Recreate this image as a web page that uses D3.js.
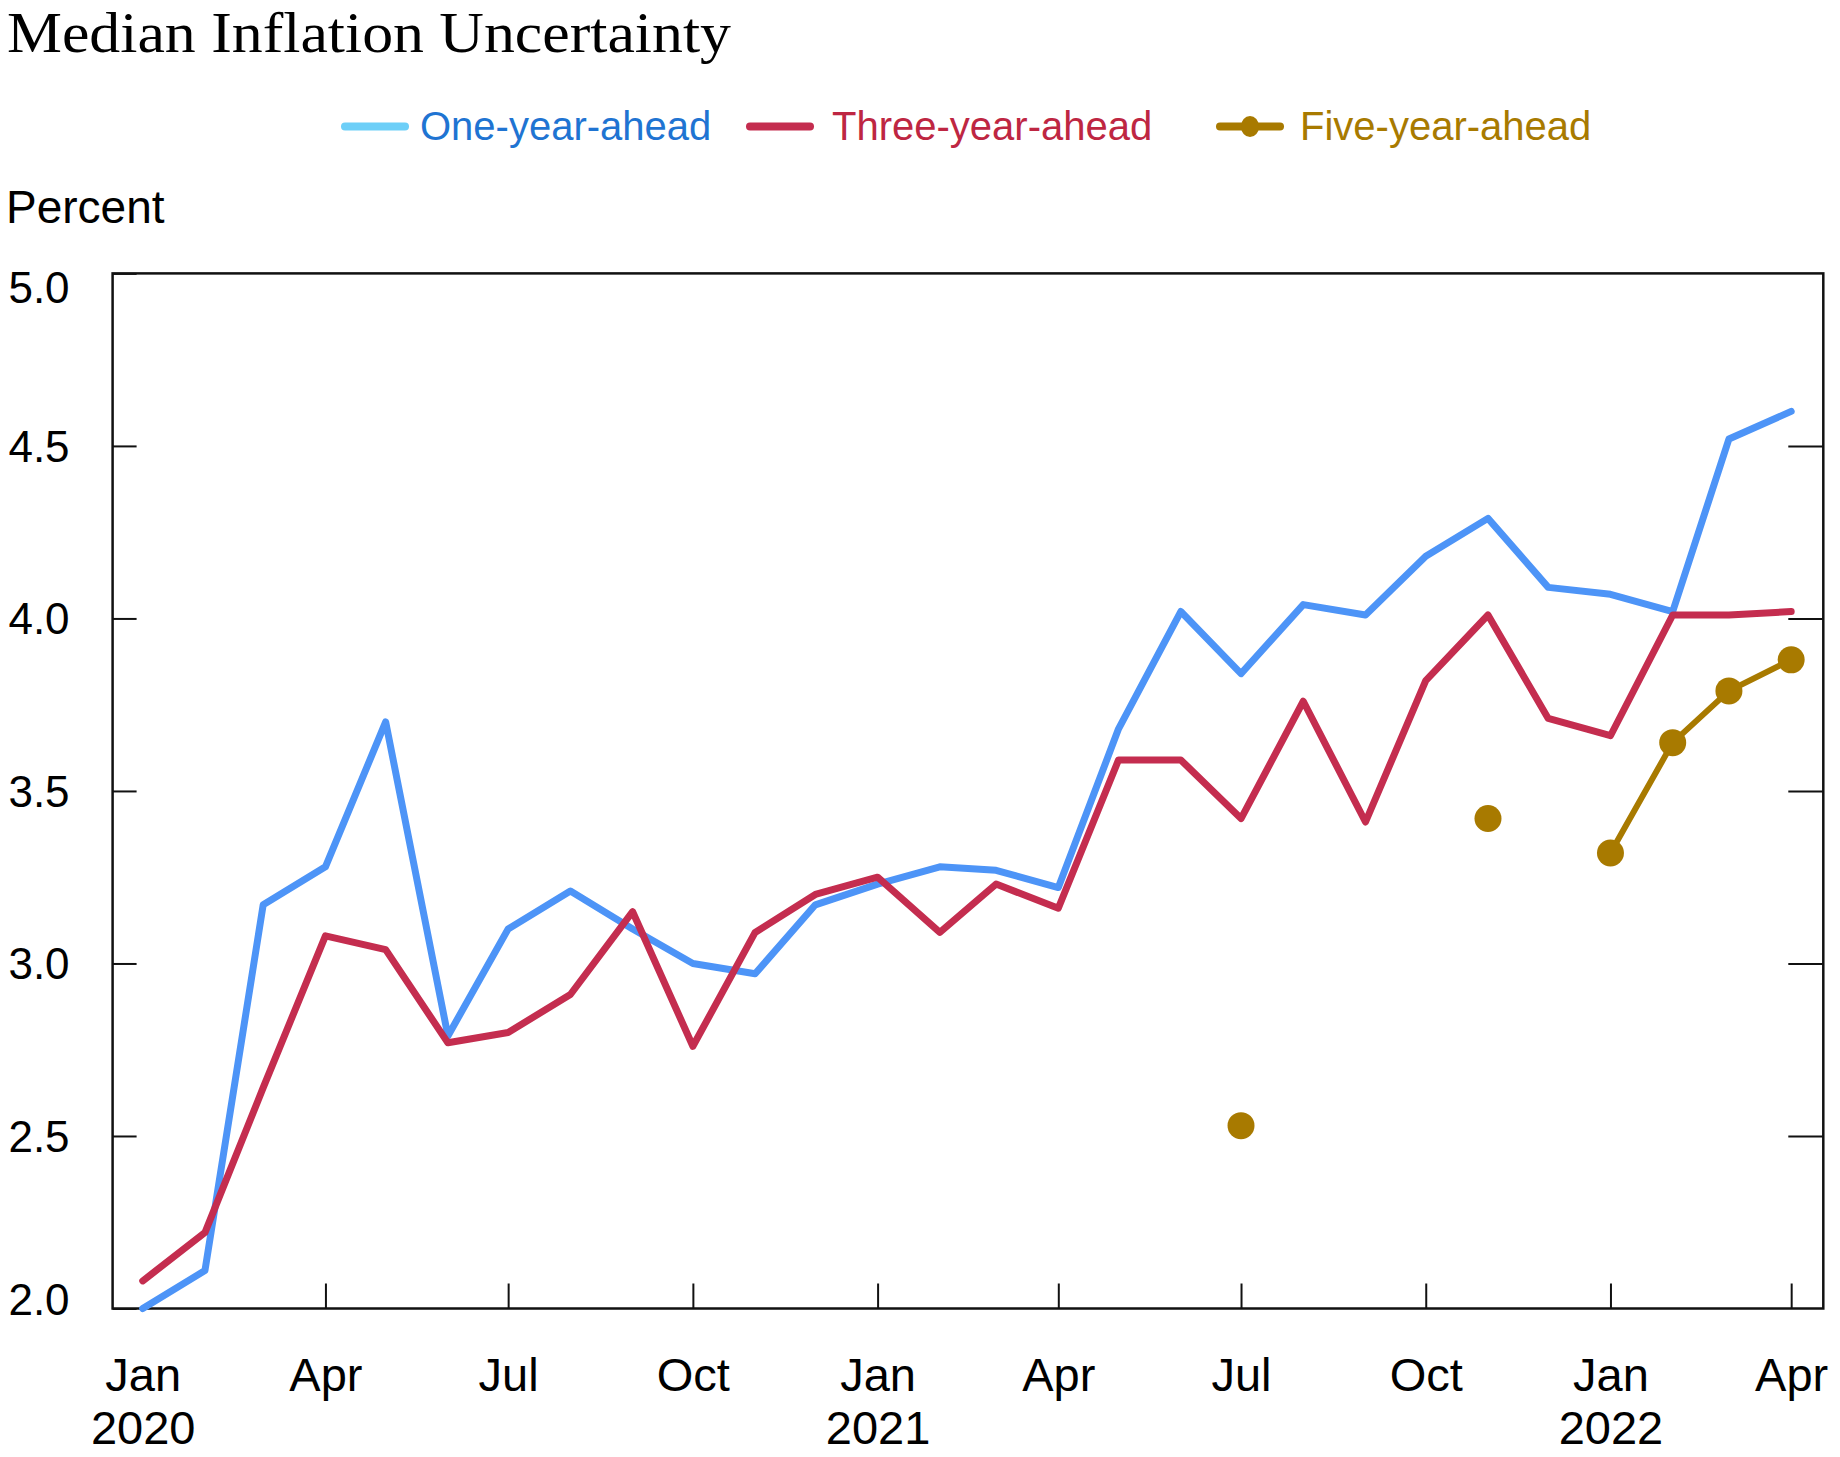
<!DOCTYPE html>
<html>
<head>
<meta charset="utf-8">
<script src="https://cdn.jsdelivr.net/npm/d3@7/dist/d3.min.js"></script>
<style>
  html, body { margin: 0; padding: 0; background: #fff; }
  svg { display: block; }
  text { font-family: "Liberation Sans", Arial, Helvetica, sans-serif; }
</style>
</head>
<body>
<svg id="chart" width="1840" height="1457"></svg>
<script>
// ---- Data ----
const months = [
  "2020-01","2020-02","2020-03","2020-04","2020-05","2020-06","2020-07","2020-08","2020-09","2020-10","2020-11","2020-12",
  "2021-01","2021-02","2021-03","2021-04","2021-05","2021-06","2021-07","2021-08","2021-09","2021-10","2021-11","2021-12",
  "2022-01","2022-02","2022-03","2022-04"
];
const oneYearAhead = [
  2.00, 2.11, 3.17, 3.28, 3.70, 2.79, 3.10, 3.21, 3.10, 3.00, 2.97, 3.17,
  3.23, 3.28, 3.27, 3.22, 3.68, 4.02, 3.84, 4.04, 4.01, 4.18, 4.29, 4.09,
  4.07, 4.02, 4.52, 4.60
];
const threeYearAhead = [
  2.08, 2.22, 2.64, 3.08, 3.04, 2.77, 2.80, 2.91, 3.15, 2.76, 3.09, 3.20,
  3.25, 3.09, 3.23, 3.16, 3.59, 3.59, 3.42, 3.76, 3.41, 3.82, 4.01, 3.71,
  3.66, 4.01, 4.01, 4.02
];
const fiveYearAhead = [
  null, null, null, null, null, null, null, null, null, null, null, null,
  null, null, null, null, null, null, 2.53, null, null, null, 3.42, null,
  3.32, 3.64, 3.79, 3.88
];
const seriesNames = ["One-year-ahead", "Three-year-ahead", "Five-year-ahead"];
const yTickValues = [2.0, 2.5, 3.0, 3.5, 4.0, 4.5, 5.0];
const xTickMonths = ["2020-01","2020-04","2020-07","2020-10","2021-01","2021-04","2021-07","2021-10","2022-01","2022-04"];
const titleText = "Median Inflation Uncertainty";
const yAxisTitle = "Percent";

// ---- Layout ----
const svg = d3.select("#chart");
const plot = { left: 112.6, right: 1823.3, top: 273.4, bottom: 1308.5 };
const parse = d3.utcParse("%Y-%m");
const dates = months.map(parse);

const x = d3.scaleUtc()
  .domain([new Date(Date.UTC(2019, 11, 17)), new Date(Date.UTC(2022, 3, 17))])
  .range([plot.left, plot.right]);
const y = d3.scaleLinear().domain([2, 5]).range([plot.bottom, plot.top]);

const colors = {
  one: "#4D94F7", oneLegend: "#6DCFF8", oneText: "#1F74D2",
  three: "#C42D4F", threeText: "#BE2642",
  five: "#A87A00", fiveText: "#A87A00"
};

// Title
svg.append("text")
  .attr("x", 7).attr("y", 52)
  .attr("textLength", 724).attr("lengthAdjust", "spacingAndGlyphs")
  .style("font-family", "'Liberation Serif', 'Times New Roman', serif")
  .style("font-size", "56px").attr("fill", "#000")
  .text(titleText);

// Legend
const legendY = 126.5;
const legendItems = [
  { name: seriesNames[0], x1: 345, x2: 405, tx: 420, line: colors.oneLegend, text: colors.oneText, marker: false },
  { name: seriesNames[1], x1: 750, x2: 810, tx: 832, line: colors.three, text: colors.threeText, marker: false },
  { name: seriesNames[2], x1: 1220, x2: 1280, tx: 1300, line: colors.five, text: colors.fiveText, marker: true }
];
const lg = svg.append("g");
legendItems.forEach(d => {
  lg.append("line").attr("x1", d.x1).attr("x2", d.x2).attr("y1", legendY).attr("y2", legendY)
    .attr("stroke", d.line).attr("stroke-width", 8).attr("stroke-linecap", "round");
  if (d.marker) {
    lg.append("ellipse").attr("cx", (d.x1 + d.x2) / 2).attr("cy", legendY).attr("rx", 9).attr("ry", 10.5)
      .attr("fill", d.line);
  }
  lg.append("text").attr("x", d.tx).attr("y", legendY + 13.5)
    .style("font-size", "40px").attr("fill", d.text).text(d.name);
});

// Y axis title
svg.append("text").attr("x", 6).attr("y", 223)
  .style("font-size", "46px").attr("fill", "#000").text(yAxisTitle);

// Frame
svg.append("rect")
  .attr("x", plot.left).attr("y", plot.top)
  .attr("width", plot.right - plot.left).attr("height", plot.bottom - plot.top)
  .attr("fill", "none").attr("stroke", "#111").attr("stroke-width", 2.5);

// Left axis (ticks inward, labels outside)
const yAxisL = d3.axisLeft(y).tickValues(yTickValues).tickFormat(d3.format(".1f"))
  .tickSizeInner(-24).tickSizeOuter(0).tickPadding(43);
const gL = svg.append("g").attr("transform", `translate(${plot.left},0)`).call(yAxisL);
gL.select(".domain").remove();
gL.selectAll(".tick line").attr("stroke", "#111").attr("stroke-width", 2);
gL.selectAll(".tick text")
  .style("font-size", "44px").attr("fill", "#000").attr("dy", null)
  .attr("dominant-baseline", "central")
  .attr("y", d => {
    const p = y(d);
    return Math.min(Math.max(p, plot.top + 14), plot.bottom - 10) - p;
  });

// Right axis ticks
const yAxisR = d3.axisRight(y).tickValues(yTickValues.slice(1, -1)).tickFormat("")
  .tickSizeInner(-35).tickSizeOuter(0);
const gR = svg.append("g").attr("transform", `translate(${plot.right},0)`).call(yAxisR);
gR.select(".domain").remove();
gR.selectAll(".tick line").attr("stroke", "#111").attr("stroke-width", 2);

// Bottom axis
const xTicks = xTickMonths.map(parse);
const fmtMonth = d3.utcFormat("%b");
const fmtYear = d3.utcFormat("%Y");
const xAxis = d3.axisBottom(x).tickValues(xTicks).tickFormat(fmtMonth)
  .tickSizeInner(-25).tickSizeOuter(0).tickPadding(49);
const gX = svg.append("g").attr("transform", `translate(0,${plot.bottom})`).call(xAxis);
gX.select(".domain").remove();
gX.selectAll(".tick line").attr("stroke", "#111").attr("stroke-width", 2)
  .attr("display", (d, i) => i === 0 ? "none" : null);
gX.selectAll(".tick text")
  .style("font-size", "47px").attr("fill", "#000")
  .each(function(d) {
    if (d.getUTCMonth() === 0) {
      d3.select(this).append("tspan").attr("x", 0).attr("dy", "53px").text(fmtYear(d));
    }
  });

// Lines
const lineGen = d3.line()
  .defined(d => d.v != null)
  .x(d => x(d.date)).y(d => y(d.v));

function seriesData(arr) { return arr.map((v, i) => ({ date: dates[i], v })); }

svg.append("path").datum(seriesData(oneYearAhead))
  .attr("d", lineGen).attr("fill", "none").attr("stroke", colors.one)
  .attr("stroke-width", 7).attr("stroke-linejoin", "round").attr("stroke-linecap", "round");

svg.append("path").datum(seriesData(threeYearAhead))
  .attr("d", lineGen).attr("fill", "none").attr("stroke", colors.three)
  .attr("stroke-width", 7).attr("stroke-linejoin", "round").attr("stroke-linecap", "round");

const fiveData = seriesData(fiveYearAhead);
svg.append("path").datum(fiveData)
  .attr("d", lineGen).attr("fill", "none").attr("stroke", colors.five)
  .attr("stroke-width", 6).attr("stroke-linejoin", "round").attr("stroke-linecap", "round");
svg.append("g").selectAll("circle").data(fiveData.filter(d => d.v != null))
  .join("circle").attr("cx", d => x(d.date)).attr("cy", d => y(d.v)).attr("r", 13.5)
  .attr("fill", colors.five);
</script>
</body>
</html>
